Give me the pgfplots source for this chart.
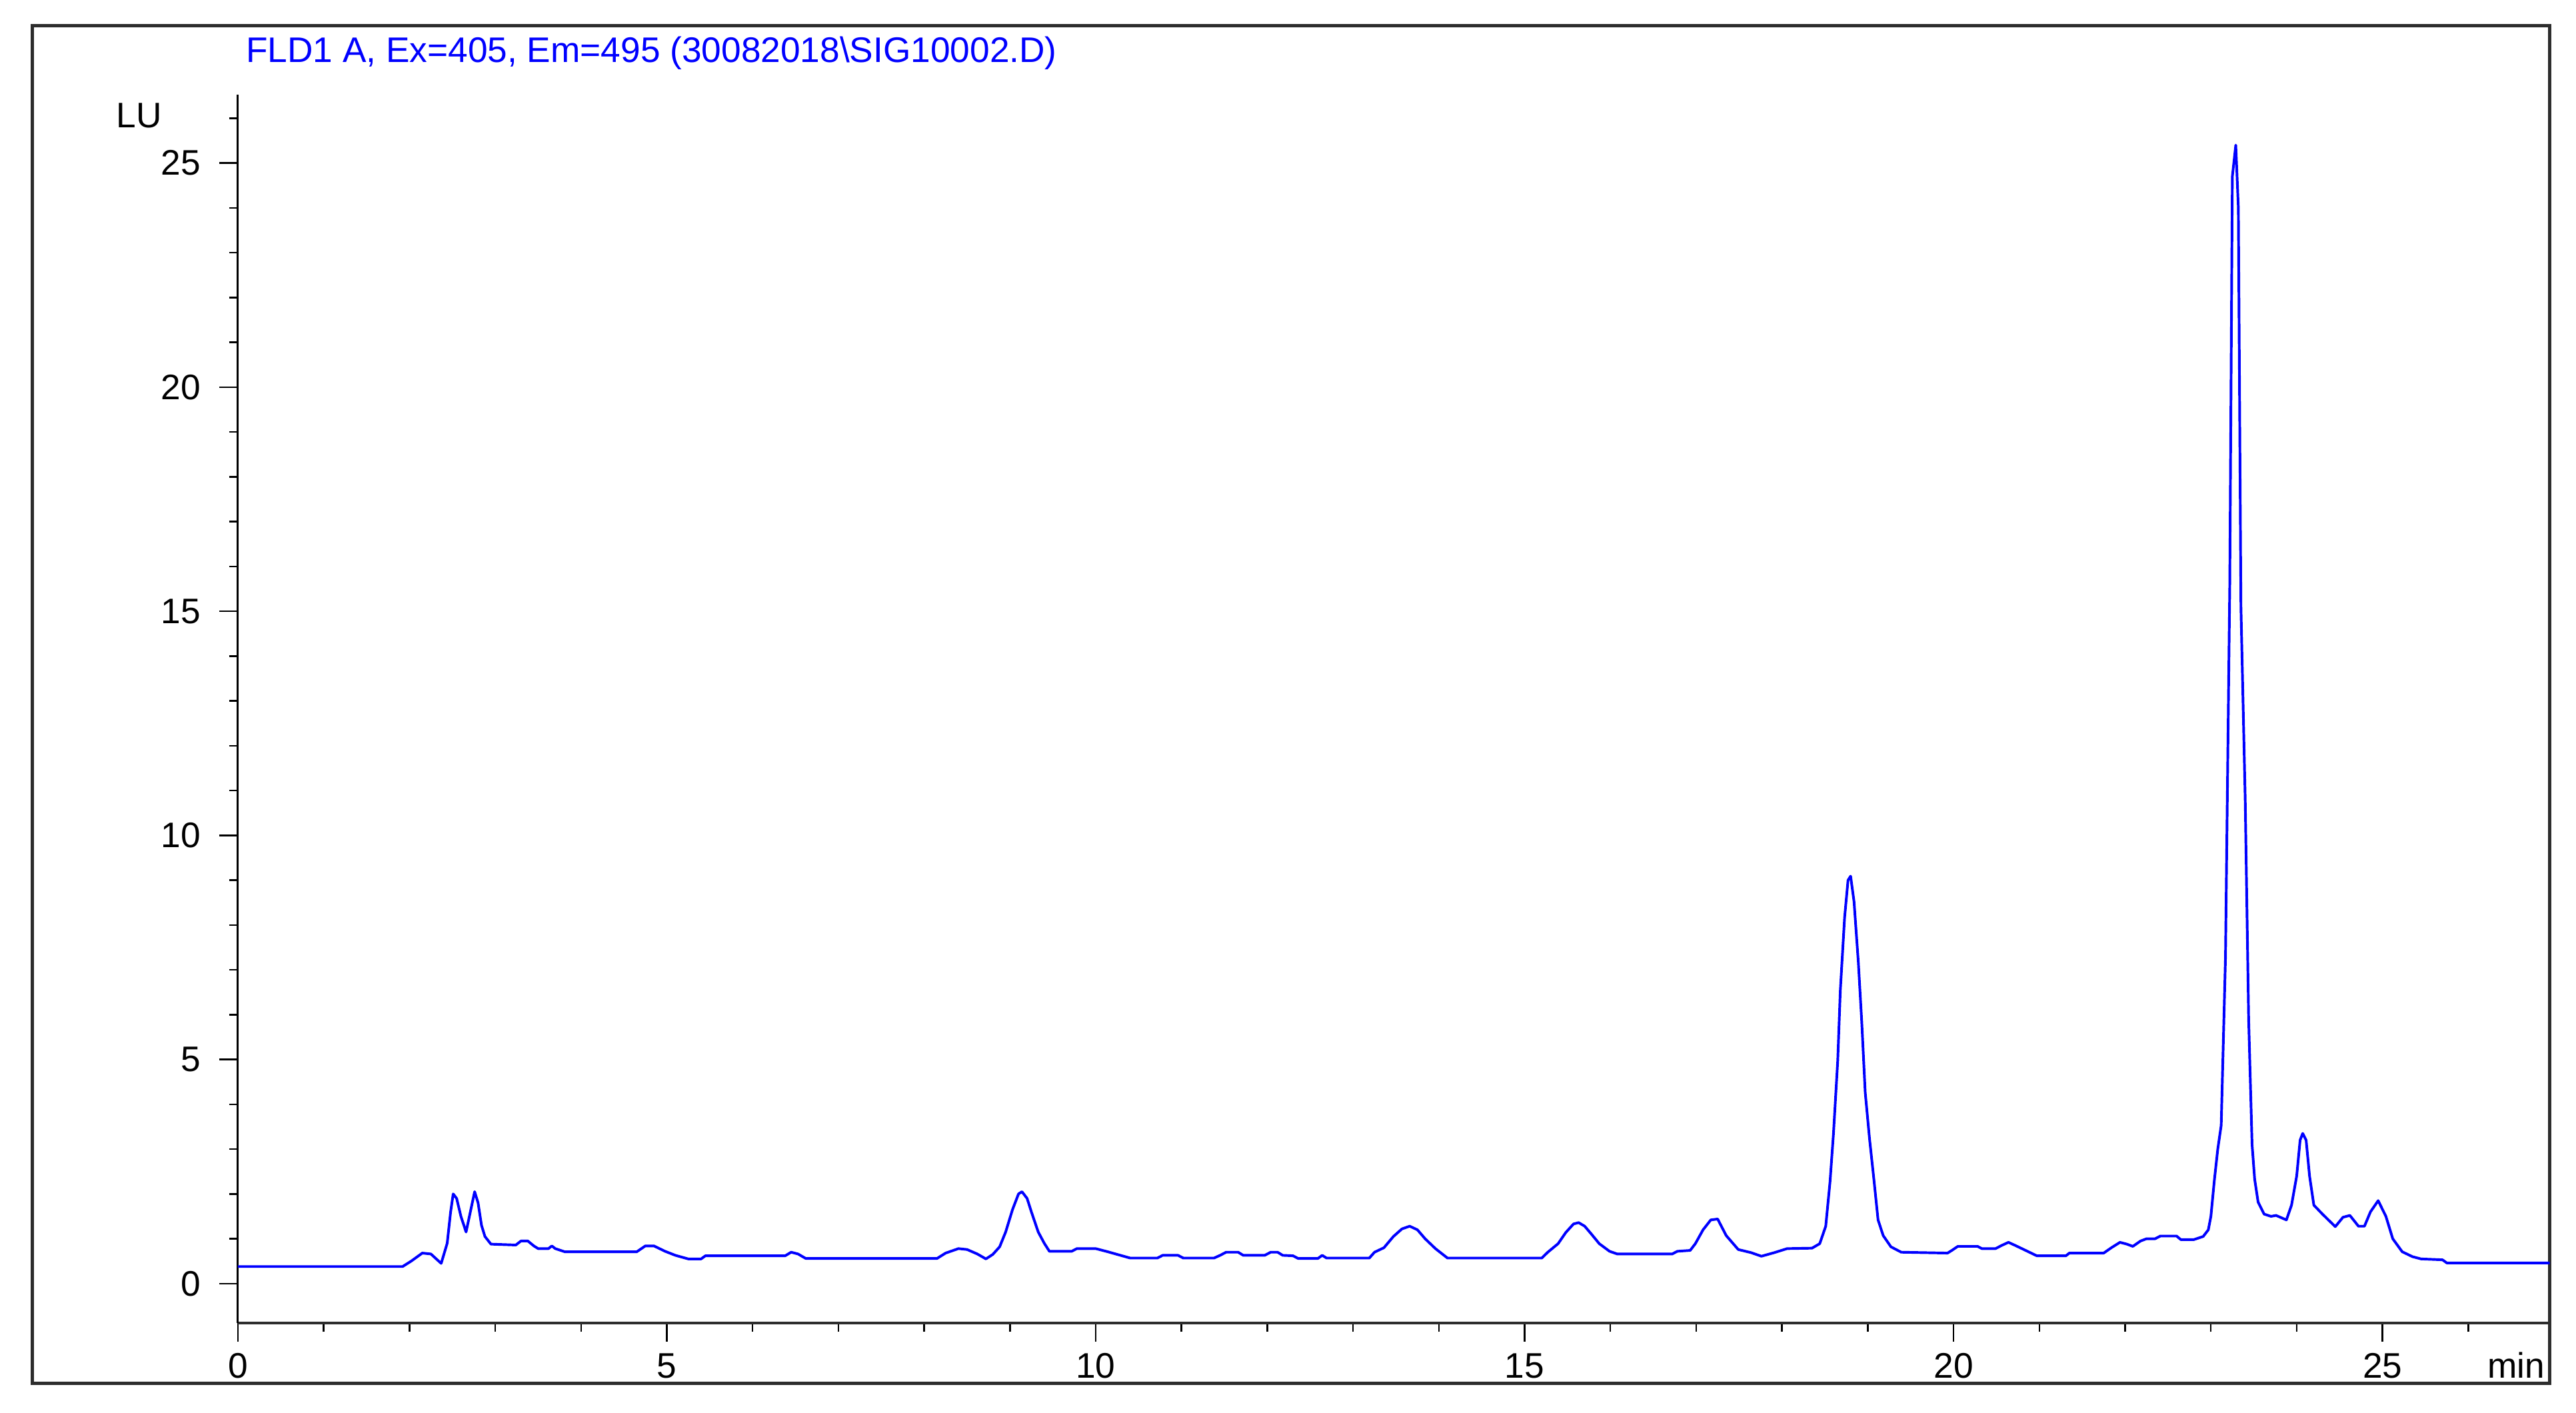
\documentclass[border=0pt]{standalone}
\usepackage{pgfplots}
\pgfplotsset{compat=1.18}
\usepackage{fontspec}
\setmainfont{Liberation Sans}
\definecolor{trace}{RGB}{0,0,255}
\definecolor{framegray}{RGB}{45,45,45}
\newcommand{\lab}{\fontsize{10.8}{13}\selectfont}

\begin{document}
\begin{tikzpicture}
\path[use as bounding box] (0,0) rectangle (784pt,430pt);
\draw[framegray, line width=1pt] (9.9pt,9pt) rectangle (776pt,422.2pt);

\begin{axis}[
	at={(72.4pt,27.35pt)}, anchor=south west,
	scale only axis, width=703.6pt, height=373.9pt,
	xmin=0, xmax=26.95, ymin=-0.88, ymax=26.53,
	axis x line=bottom, axis y line=left,
	axis line style={-},
	x axis line style={-, line width=1pt, framegray},
	y axis line style={-, line width=0.6pt, black},
	tick align=outside,
	major tick length=5.7pt, minor tick length=2.7pt,
	tick style={black, line width=0.5pt},
	xtick={0,5,...,25}, ytick={0,5,...,25},
	minor xtick={0,1,...,26}, minor ytick={0,1,...,26},
	/pgf/number format/assume math mode=true,
	tick label style={font=\lab},
	yticklabel style={xshift=-2.1pt},
	clip=false,
]
\addplot[trace, line width=0.8pt, line join=round] coordinates {
(0,0.38) (1.92,0.38) (2.02,0.5) (2.15,0.68) (2.25,0.66) (2.37,0.45)
(2.44,0.9) (2.48,1.6) (2.51,2.0) (2.55,1.9) (2.60,1.5) (2.66,1.15)
(2.71,1.6) (2.76,2.05) (2.80,1.8) (2.84,1.3) (2.88,1.05) (2.95,0.88)
(3.24,0.86) (3.30,0.95) (3.38,0.95) (3.45,0.84) (3.50,0.78) (3.62,0.78)
(3.66,0.84) (3.70,0.78) (3.81,0.71) (4.65,0.71) (4.75,0.84) (4.85,0.84)
(4.98,0.72) (5.10,0.63) (5.25,0.55) (5.40,0.55) (5.45,0.62) (6.38,0.62)
(6.45,0.70) (6.53,0.66) (6.62,0.56) (8.15,0.56) (8.25,0.68) (8.40,0.78)
(8.50,0.76) (8.62,0.66) (8.72,0.55) (8.80,0.65) (8.88,0.82) (8.95,1.15)
(9.03,1.65) (9.10,2.0) (9.14,2.05) (9.20,1.9) (9.25,1.6) (9.33,1.15)
(9.40,0.9) (9.46,0.72) (9.72,0.72) (9.78,0.78) (10.00,0.78) (10.14,0.71)
(10.27,0.64) (10.40,0.57) (10.72,0.57) (10.78,0.63) (10.96,0.63) (11.02,0.57)
(11.38,0.57) (11.45,0.63) (11.52,0.70) (11.66,0.70) (11.72,0.63) (11.97,0.63)
(12.04,0.70) (12.12,0.70) (12.18,0.63) (12.30,0.62) (12.36,0.56) (12.59,0.56)
(12.64,0.63) (12.69,0.57) (13.19,0.57) (13.25,0.70) (13.36,0.80) (13.47,1.05)
(13.57,1.22) (13.66,1.28) (13.75,1.2) (13.84,1.0) (13.96,0.78) (14.1,0.57)
(15.2,0.57) (15.27,0.70) (15.39,0.89) (15.48,1.14) (15.57,1.33) (15.63,1.36)
(15.70,1.28) (15.78,1.1) (15.87,0.89) (15.99,0.72) (16.08,0.66) (16.72,0.66)
(16.78,0.72) (16.93,0.74) (16.99,0.89) (17.08,1.2) (17.17,1.42) (17.25,1.44)
(17.35,1.07) (17.49,0.76) (17.64,0.69) (17.76,0.61) (17.91,0.69) (18.06,0.78)
(18.35,0.79) (18.44,0.89) (18.51,1.28) (18.56,2.27) (18.60,3.34) (18.65,4.98)
(18.68,6.54) (18.73,8.17) (18.77,9.0) (18.80,9.09) (18.84,8.52) (18.89,7.17)
(18.93,5.83) (18.97,4.27) (19.02,3.24) (19.07,2.35) (19.12,1.42) (19.18,1.07)
(19.27,0.82) (19.39,0.70) (19.93,0.68) (19.98,0.74) (20.05,0.83) (20.28,0.83)
(20.33,0.78) (20.49,0.78) (20.56,0.85) (20.64,0.92) (20.72,0.85) (20.84,0.74)
(20.97,0.62) (21.31,0.62) (21.35,0.68) (21.75,0.68) (21.84,0.80) (21.94,0.92)
(22.02,0.88) (22.09,0.83) (22.18,0.95) (22.25,1.0) (22.35,1.0) (22.41,1.06)
(22.60,1.06) (22.65,0.98) (22.80,0.98) (22.91,1.05) (22.97,1.2) (23.00,1.5)
(23.04,2.3) (23.08,3.0) (23.12,3.53) (23.17,7.28) (23.22,15.6) (23.25,24.7)
(23.29,25.4) (23.32,24.0) (23.35,15.1) (23.40,10.8) (23.44,5.9) (23.48,3.1)
(23.51,2.33) (23.55,1.82) (23.62,1.55) (23.70,1.50) (23.76,1.52) (23.88,1.42)
(23.94,1.75) (24.00,2.4) (24.04,3.2) (24.07,3.35) (24.11,3.2) (24.15,2.4)
(24.20,1.75) (24.30,1.55) (24.45,1.27) (24.54,1.48) (24.62,1.52) (24.72,1.28)
(24.79,1.28) (24.86,1.6) (24.95,1.85) (25.04,1.5) (25.12,1.0) (25.23,0.71)
(25.35,0.60) (25.45,0.55) (25.70,0.53) (25.75,0.46) (26.95,0.46)
};
\end{axis}

\node[anchor=base west, inner sep=0pt, text=trace, font=\lab] at (74.7pt,411.1pt)
	{FLD1 A, Ex=405, Em=495 (30082018\textbackslash SIG10002.D)};
\node[anchor=base west, inner sep=0pt, font=\lab] at (35.2pt,391.1pt) {LU};
\node[anchor=base, inner sep=0pt, font=\lab] at (765.8pt,10.55pt) {min};
\end{tikzpicture}
\end{document}
